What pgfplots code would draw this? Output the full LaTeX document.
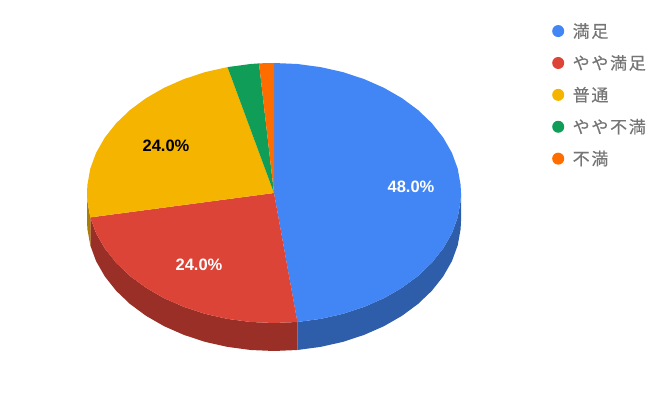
\documentclass[border=0pt]{standalone}
\usepackage{pgfplots}
\pgfplotsset{compat=1.18}
\usepackage{fontspec}
\setmainfont{Liberation Sans}
\newfontfamily\cjk[LetterSpace=10,FakeBold=0.45]{Noto Sans CJK JP}

\definecolor{cblue}{HTML}{4285F4}
\definecolor{cred}{HTML}{DB4437}
\definecolor{cyellow}{HTML}{F4B400}
\definecolor{cgreen}{HTML}{0F9D58}
\definecolor{corange}{HTML}{FF6D01}
\definecolor{dblue}{HTML}{2E5DAA}
\definecolor{dred}{HTML}{992F26}
\definecolor{dyellow}{HTML}{AA7E00}
\definecolor{ltext}{HTML}{757575}

\begin{document}
\begin{tikzpicture}
  \begin{axis}[
      scale only axis,
      width=667pt, height=415pt,
      xmin=-274, xmax=393,
      ymin=-222, ymax=193,
      hide axis,
      clip=false,
      legend style={
        at={(axis cs:278,170)}, anchor=north west,
        draw=none, fill=none, inner sep=0pt,
        font=\cjk\fontsize{17}{20}\selectfont\color{ltext},
        row sep=16.1pt,
        nodes={inner sep=0pt, anchor=west},
      },
      legend cell align=left,
      legend image code/.code={\fill[#1, draw=none] (0pt,0pt) circle (6pt); \path[draw=none, fill=none] (-6pt,0pt) -- (14.5pt,0pt);},
    ]
    % keeps the page at the full plot area
    \path[draw=none, fill=none] (rel axis cs:0,0) rectangle (rel axis cs:1,1);

    % side walls, top edge then bottom edge
    \addplot[forget plot, fill=dblue, draw=none] coordinates {
      (187,0) (186.6,-8.2) (183.7,-24.4) (177.9,-40.2) (169.2,-55.4) (157.9,-69.7) (144.1,-82.9)
      (128,-94.8) (109.9,-105.2) (90.1,-113.9) (68.8,-120.9) (46.5,-125.9) (23.4,-129)
      (23.4,-157) (46.5,-153.9) (68.8,-148.9) (90.1,-141.9) (109.9,-133.2) (128,-122.8)
      (144.1,-110.9) (157.9,-97.7) (169.2,-83.4) (177.9,-68.2) (183.7,-52.4) (186.6,-36.2) (187,-28)
    } -- cycle;
    \addplot[forget plot, fill=dred, draw=none] coordinates {
      (23.4,-129) (0,-130) (-23.4,-129) (-46.5,-125.9) (-68.8,-120.9) (-90.1,-113.9) (-109.9,-105.2)
      (-128,-94.8) (-144.1,-82.9) (-157.9,-69.7) (-169.2,-55.4) (-177.9,-40.2) (-183.7,-24.4)
      (-183.7,-52.4) (-177.9,-68.2) (-169.2,-83.4) (-157.9,-97.7) (-144.1,-110.9) (-128,-122.8)
      (-109.9,-133.2) (-90.1,-141.9) (-68.8,-148.9) (-46.5,-153.9) (-23.4,-157) (0,-158) (23.4,-157)
    } -- cycle;
    \addplot[forget plot, fill=dyellow, draw=none] coordinates {
      (-183.7,-24.4) (-186.6,-8.2) (-187,0) (-187,-28) (-186.6,-36.2) (-183.7,-52.4)
    } -- cycle;

    % top slices
    \addplot[forget plot, fill=cblue, draw=none] coordinates {
      (0,0) (0,130) (23.4,129) (46.5,125.9) (68.8,120.9) (90.1,113.9) (109.9,105.2) (128,94.8)
      (144.1,82.9) (157.9,69.7) (169.2,55.4) (177.9,40.2) (183.7,24.4) (186.6,8.2) (187,0)
      (186.6,-8.2) (183.7,-24.4) (177.9,-40.2) (169.2,-55.4) (157.9,-69.7) (144.1,-82.9)
      (128,-94.8) (109.9,-105.2) (90.1,-113.9) (68.8,-120.9) (46.5,-125.9) (23.4,-129)
    } -- cycle;
    \addplot[forget plot, fill=cred, draw=none] coordinates {
      (0,0) (23.4,-129) (0,-130) (-23.4,-129) (-46.5,-125.9) (-68.8,-120.9) (-90.1,-113.9)
      (-109.9,-105.2) (-128,-94.8) (-144.1,-82.9) (-157.9,-69.7) (-169.2,-55.4) (-177.9,-40.2)
      (-183.7,-24.4)
    } -- cycle;
    \addplot[forget plot, fill=cyellow, draw=none] coordinates {
      (0,0) (-183.7,-24.4) (-186.6,-8.2) (-187,0) (-186.6,8.2) (-183.7,24.4) (-177.9,40.2)
      (-169.2,55.4) (-157.9,69.7) (-144.1,82.9) (-128,94.8) (-109.9,105.2) (-90.1,113.9)
      (-68.8,120.9) (-46.5,125.9)
    } -- cycle;
    \addplot[forget plot, fill=cgreen, draw=none] coordinates {
      (0,0) (-46.5,125.9) (-23.4,129) (-15,129.6)
    } -- cycle;
    \addplot[forget plot, fill=corange, draw=none] coordinates {
      (0,0) (-15,129.6) (-7.5,129.9) (0,130)
    } -- cycle;

    \addlegendimage{cblue}
    \addlegendimage{cred}
    \addlegendimage{cyellow}
    \addlegendimage{cgreen}
    \addlegendimage{corange}
    \legend{満足, やや満足, 普通, やや不満, 不満}

    \node[font=\bfseries\fontsize{16.5}{18}\selectfont, text=white] at (axis cs:137,6) {48.0\%};
    \node[font=\bfseries\fontsize{16.5}{18}\selectfont, text=white] at (axis cs:-75,-72) {24.0\%};
    \node[font=\bfseries\fontsize{16.5}{18}\selectfont, text=black] at (axis cs:-108,47) {24.0\%};
  \end{axis}
\end{tikzpicture}
\end{document}
